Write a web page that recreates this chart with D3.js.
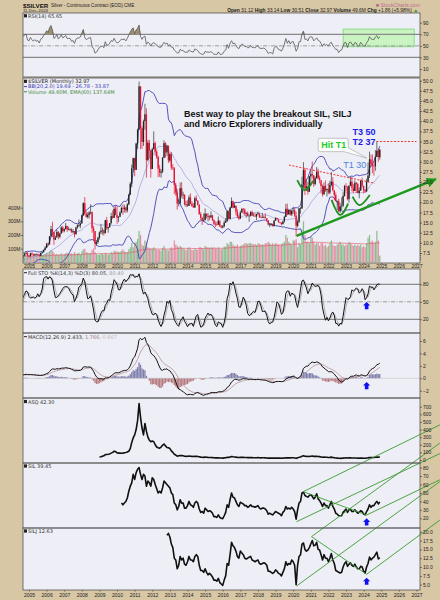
<!DOCTYPE html>
<html>
<head>
<meta charset="utf-8">
<style>
body { margin: 0; background: #d8c7a5; }
svg { display: block; }
text { font-family: "Liberation Sans", Arial, sans-serif; }
.lg { font-family: "DejaVu Sans", Verdana, sans-serif; font-size: 5px; }
.ax text { font-size: 5px; fill: #222; }
.ax line { stroke: #333; stroke-width: 0.6; }
.ax path { display: none; }
</style>
<script src="https://d3js.org/d3.v7.min.js"></script>
</head>
<body>
<svg width="440" height="600"></svg>
<script>

// ---- data -------------------------------------------------------------
// $SILVER monthly, Jan 2002 .. Dec 2024 (earlier months only warm up the indicators)
var silverStart = 2002;
var silverClose = [
  4.24, 4.52, 4.60, 4.57, 4.93, 4.86, 4.60, 4.51, 4.55, 4.45, 4.52, 4.79,
  4.85, 4.60, 4.45, 4.60, 4.60, 4.55, 5.10, 5.05, 5.15, 5.05, 5.30, 5.95,
  6.20, 6.70, 7.50, 6.00, 6.10, 5.90, 6.60, 6.80, 6.90, 7.30, 7.50, 6.80,
  6.70, 7.40, 7.10, 6.90, 7.20, 7.00, 7.10, 6.80, 7.50, 7.70, 8.30, 8.80,
  9.80, 9.60, 11.60, 13.40, 12.60, 10.80, 11.30, 12.70, 11.50, 12.30, 13.80, 12.90,
  13.40, 14.20, 13.30, 13.40, 13.40, 12.60, 12.90, 12.10, 13.80, 14.30, 14.30, 14.80,
  16.80, 19.80, 17.20, 16.40, 16.90, 17.50, 17.60, 13.60, 12.90, 9.80, 10.20, 11.30,
  12.60, 13.00, 13.10, 12.40, 15.60, 13.60, 13.90, 14.90, 16.60, 16.20, 18.40, 16.90,
  16.20, 16.40, 17.50, 18.60, 18.40, 18.70, 18.00, 19.50, 21.90, 24.60, 28.40, 30.90,
  28.00, 34.50, 37.90, 48.60, 38.30, 34.90, 40.00, 41.70, 30.40, 34.70, 32.80, 28.20,
  33.10, 34.60, 32.50, 31.20, 28.30, 27.30, 27.60, 31.00, 34.60, 32.30, 34.00, 30.30,
  31.90, 28.60, 28.40, 24.30, 22.40, 19.70, 19.80, 23.50, 21.70, 21.90, 19.50, 19.50,
  19.10, 21.20, 19.70, 19.10, 18.70, 21.00, 20.40, 19.40, 17.10, 16.20, 15.50, 15.60,
  17.20, 16.60, 16.60, 16.30, 16.80, 15.60, 14.70, 14.60, 14.50, 15.50, 14.10, 13.80,
  14.10, 15.00, 15.40, 17.80, 15.90, 18.70, 20.30, 18.70, 19.20, 17.70, 16.50, 16.00,
  17.50, 18.40, 18.20, 17.20, 17.30, 16.60, 16.70, 17.60, 16.70, 16.70, 16.50, 17.10,
  17.30, 16.40, 16.30, 16.30, 16.40, 16.10, 15.50, 14.50, 14.70, 14.70, 14.20, 15.50,
  16.10, 15.80, 15.10, 15.00, 14.60, 15.30, 16.40, 18.40, 17.00, 18.10, 17.00, 17.90,
  18.00, 16.70, 14.20, 15.20, 18.50, 18.50, 24.40, 28.00, 23.40, 23.90, 22.60, 26.40,
  27.00, 26.70, 24.50, 25.90, 27.50, 26.00, 25.50, 24.00, 22.00, 24.00, 23.00, 23.30,
  22.40, 24.30, 25.10, 23.00, 21.80, 20.30, 20.30, 17.80, 19.00, 19.20, 21.60, 24.00,
  23.90, 20.80, 24.10, 25.10, 23.60, 22.80, 24.80, 24.50, 22.30, 22.90, 25.30, 24.10,
  23.00, 22.70, 25.10, 26.60, 30.60, 29.40, 29.00, 28.90, 31.20, 32.70, 31.12, 32.97
];
var silverHigh = [
  4.40, 4.56, 4.70, 4.66, 5.04, 5.10, 5.00, 4.65, 4.70, 4.60, 4.60, 4.85,
  4.95, 4.90, 4.70, 4.70, 4.80, 4.70, 5.20, 5.30, 5.30, 5.20, 5.35, 6.00,
  6.60, 6.90, 7.90, 8.30, 6.30, 6.30, 6.80, 6.90, 7.00, 7.50, 7.85, 7.80,
  6.95, 7.60, 7.70, 7.40, 7.30, 7.45, 7.30, 7.30, 7.60, 7.80, 8.30, 9.20,
  10.00, 10.10, 11.70, 14.20, 15.20, 12.70, 11.80, 13.20, 12.90, 12.50, 14.10, 14.20,
  13.60, 14.90, 14.00, 14.00, 13.60, 13.60, 13.40, 12.90, 13.90, 14.60, 15.80, 15.00,
  17.00, 20.00, 21.30, 17.90, 17.50, 17.80, 19.50, 17.70, 14.20, 12.90, 10.70, 11.50,
  12.80, 14.70, 13.80, 13.30, 15.70, 16.40, 14.00, 14.90, 17.40, 18.00, 19.00, 19.20,
  18.90, 16.60, 17.80, 19.00, 19.50, 19.40, 18.90, 19.80, 22.10, 25.00, 29.30, 31.00,
  31.00, 34.70, 38.20, 49.80, 48.60, 38.80, 40.40, 44.30, 43.20, 35.40, 35.40, 33.00,
  33.50, 37.50, 35.00, 33.00, 31.50, 29.20, 28.20, 31.20, 35.30, 34.80, 34.20, 33.90,
  32.30, 32.40, 29.40, 28.70, 24.80, 23.30, 20.70, 24.90, 25.00, 22.60, 21.90, 20.40,
  20.50, 21.70, 22.20, 20.30, 19.80, 21.40, 21.70, 20.50, 19.50, 17.60, 16.40, 17.30,
  18.50, 17.30, 17.30, 16.80, 17.80, 16.90, 15.80, 15.30, 15.20, 16.50, 14.80, 14.40,
  14.40, 15.50, 16.10, 18.00, 17.80, 18.80, 21.20, 20.40, 19.90, 19.00, 18.30, 17.00,
  17.90, 18.50, 18.60, 18.50, 17.60, 17.80, 16.90, 17.80, 18.00, 17.40, 17.30, 17.20,
  17.70, 17.20, 16.80, 17.40, 16.80, 17.30, 16.00, 15.60, 14.80, 14.90, 14.70, 15.60,
  16.30, 16.20, 15.70, 15.20, 15.00, 15.40, 16.70, 19.60, 19.70, 18.40, 18.10, 18.10,
  18.90, 18.60, 17.70, 15.70, 18.60, 18.90, 26.30, 29.90, 28.50, 25.70, 25.00, 26.50,
  27.90, 30.10, 26.60, 26.40, 28.70, 28.30, 26.60, 24.90, 24.40, 24.90, 25.40, 23.40,
  24.70, 25.30, 27.50, 26.20, 22.80, 22.40, 20.50, 20.90, 19.90, 21.20, 22.50, 24.30,
  24.70, 23.90, 24.20, 26.40, 26.20, 24.50, 25.40, 25.00, 24.80, 23.70, 25.60, 26.10,
  23.60, 23.30, 25.80, 29.80, 32.50, 31.80, 31.80, 30.20, 32.90, 35.00, 33.20, 33.14
];
var silverLow = [
  4.20, 4.20, 4.45, 4.50, 4.53, 4.80, 4.55, 4.40, 4.45, 4.40, 4.40, 4.50,
  4.70, 4.55, 4.35, 4.45, 4.55, 4.45, 4.55, 4.95, 4.95, 4.90, 5.00, 5.30,
  5.95, 6.10, 6.70, 5.90, 5.50, 5.60, 5.90, 6.30, 6.20, 6.70, 7.20, 6.60,
  6.40, 6.70, 7.00, 6.80, 6.80, 6.90, 6.90, 6.70, 6.80, 7.30, 7.60, 8.20,
  8.80, 9.30, 9.70, 11.50, 11.40, 9.50, 10.70, 11.80, 10.90, 11.10, 12.30, 12.50,
  12.60, 13.30, 12.70, 13.10, 12.90, 12.50, 12.50, 11.30, 12.10, 13.50, 13.90, 13.60,
  14.70, 16.60, 16.80, 16.20, 16.00, 16.00, 17.00, 12.50, 10.50, 8.40, 9.30, 9.80,
  10.80, 12.20, 12.00, 11.80, 12.30, 13.20, 12.50, 13.70, 14.60, 15.90, 16.10, 16.80,
  14.70, 15.10, 16.50, 17.30, 16.90, 17.50, 17.40, 17.50, 19.30, 21.80, 23.80, 27.50,
  26.40, 28.00, 33.20, 37.90, 33.10, 33.20, 33.90, 37.90, 26.10, 30.10, 30.70, 26.10,
  28.30, 33.00, 31.50, 30.70, 26.20, 26.30, 26.10, 27.20, 30.90, 31.00, 31.40, 29.70,
  29.90, 28.00, 28.00, 22.00, 21.60, 18.20, 19.00, 19.50, 21.10, 20.80, 19.20, 18.80,
  18.90, 19.20, 19.50, 18.90, 18.70, 18.70, 20.30, 19.20, 16.90, 15.60, 14.40, 15.20,
  15.60, 16.00, 15.30, 15.60, 16.10, 15.40, 14.40, 13.90, 14.20, 14.40, 13.90, 13.60,
  13.60, 13.80, 14.90, 15.10, 15.80, 15.90, 18.70, 18.50, 18.60, 16.80, 16.10, 15.60,
  15.90, 17.40, 17.10, 16.80, 16.20, 16.50, 15.20, 16.50, 16.60, 16.70, 16.40, 15.60,
  16.90, 16.10, 16.10, 16.10, 16.10, 16.00, 15.30, 14.30, 13.90, 14.20, 14.00, 14.10,
  15.40, 15.60, 15.00, 14.80, 14.30, 14.60, 15.00, 16.30, 16.80, 17.00, 16.70, 16.60,
  17.20, 16.40, 11.60, 13.80, 14.90, 17.20, 18.40, 23.70, 21.80, 22.80, 21.90, 22.70,
  24.20, 25.90, 23.80, 24.20, 25.90, 25.60, 24.70, 22.20, 21.40, 21.80, 22.60, 21.40,
  22.00, 22.00, 23.90, 22.70, 20.50, 20.20, 18.10, 17.60, 17.40, 18.10, 18.80, 21.40,
  22.80, 20.50, 19.90, 24.00, 22.70, 22.30, 22.80, 22.30, 22.20, 21.00, 22.80, 23.60,
  22.20, 22.30, 22.50, 24.90, 26.00, 28.70, 27.20, 26.60, 27.80, 31.20, 30.00, 30.51
];
// monthly volume in millions, Sep 2004 .. Dec 2024
var volumeStart = 2004 + 8 / 12;
var silverVolume = [
  45, 50, 55, 50,
  45, 50, 45, 45, 40, 45, 40, 45, 50, 50, 55, 60,
  70, 65, 80, 90, 85, 70, 55, 60, 55, 55, 65, 55,
  60, 65, 70, 60, 65, 65, 60, 75, 60, 65, 70, 55,
  80, 95, 100, 75, 70, 65, 70, 90, 100, 75, 60, 55,
  55, 65, 65, 55, 70, 65, 55, 60, 75, 70, 85, 80,
  80, 75, 75, 85, 95, 80, 75, 75, 95, 110, 140, 110,
  140, 150, 170, 230, 200, 130, 120, 160, 150, 110, 100, 100,
  100, 110, 100, 90, 95, 90, 85, 105, 120, 95, 90, 85,
  100, 110, 100, 160, 130, 120, 110, 120, 110, 100, 95, 90,
  100, 110, 100, 90, 90, 100, 95, 90, 110, 110, 105, 95,
  120, 110, 110, 105, 110, 105, 110, 100, 100, 110, 100, 95,
  100, 115, 115, 140, 130, 150, 150, 130, 120, 120, 130, 110,
  120, 125, 130, 140, 140, 135, 140, 140, 135, 130, 135, 125,
  140, 135, 130, 130, 130, 140, 140, 150, 140, 130, 140, 130,
  140, 135, 130, 125, 135, 140, 150, 200, 180, 150, 140, 130,
  160, 160, 170, 110, 140, 130, 240, 300, 200, 150, 150, 140,
  190, 180, 150, 130, 140, 140, 120, 140, 140, 120, 130, 110,
  120, 140, 160, 130, 120, 120, 130, 140, 150, 130, 130, 120,
  130, 130, 150, 140, 130, 120, 130, 120, 130, 120, 130, 110,
  120, 110, 140, 180, 200, 150, 160, 140, 150, 230, 160, 49.6
];

// $ASQ monthly closes from Jan 2009
var asqStart = 2009;
var asqClose = [
  40, 42, 50, 55, 70, 72, 75, 80, 90, 100, 115, 110,
  95, 90, 92, 88, 90, 95, 98, 105, 115, 150, 230, 290,
  330, 400, 520, 740, 560, 420, 330, 480, 380, 300, 260, 240,
  250, 240, 200, 170, 160, 155, 170, 195, 210, 185, 165, 160,
  150, 120, 100, 75, 65, 50, 55, 60, 58, 55, 50, 48,
  50, 52, 50, 48, 45, 48, 50, 46, 42, 38, 36, 35,
  38, 36, 34, 33, 33, 31, 29, 28, 28, 29, 27, 26,
  25, 28, 30, 35, 34, 40, 45, 42, 40, 38, 34, 33,
  36, 35, 34, 32, 32, 31, 31, 32, 31, 30, 30, 30,
  31, 29, 28, 29, 29, 28, 27, 25, 25, 24, 24, 25,
  26, 25, 24, 24, 23, 25, 26, 30, 28, 29, 28, 29,
  29, 27, 22, 28, 36, 40, 50, 55, 50, 48, 46, 47,
  50, 52, 48, 48, 50, 47, 44, 40, 36, 38, 37, 36,
  33, 35, 38, 34, 30, 26, 25, 23, 22, 22, 25, 27,
  29, 26, 28, 29, 27, 26, 27, 26, 24, 24, 26, 25,
  23, 22, 26, 28, 33, 31, 32, 33, 36, 39, 37, 42.3
];

// SIL monthly closes from Apr 2010
var silStart = 2010 + 3 / 12;
var silClose = [
  38, 36, 38, 40, 44, 52, 58, 62, 72,
  66, 74, 78, 80, 72, 66, 72, 70, 58, 64, 62, 58,
  68, 66, 60, 55, 50, 52, 50, 56, 64, 62, 60, 58,
  56, 50, 48, 38, 36, 30, 34, 42, 38, 38, 32, 32,
  35, 40, 36, 35, 33, 38, 40, 38, 31, 27, 28, 26,
  32, 30, 28, 29, 28, 26, 22, 22, 21, 24, 21, 20,
  19.5, 23, 27, 36, 33, 42, 50, 45, 44, 40, 36, 34,
  39, 38, 37, 35, 35, 33, 34, 36, 34, 34, 33, 34,
  35, 32, 31, 32, 32, 31, 29, 25, 26, 25, 24, 26,
  28, 27, 26, 25, 23, 27, 29, 34, 31, 32, 31, 33,
  31, 28, 19, 30, 38, 40, 50, 51, 47, 46, 45, 47,
  48, 46, 43, 45, 49, 43, 41, 38, 34, 38, 35, 35,
  32, 36, 40, 34, 31, 26, 25, 23, 23, 23, 27, 29,
  31, 27, 30, 31, 28, 28, 30, 28, 26, 27, 29, 28,
  25, 24, 28, 31, 36, 33, 35, 35, 38, 40, 37, 39.45
];

// SILJ monthly closes from Nov 2012
var siljStart = 2012 + 10 / 12;
var siljClose = [
  19.0, 19.5,
  18.5, 16.5, 15.5, 12.5, 12.0, 9.5, 10.5, 13.0, 12.0, 12.5, 10.8, 10.5,
  11.5, 13.0, 12.0, 12.0, 11.5, 13.0, 13.5, 13.0, 10.5, 9.0, 9.0, 8.5,
  9.5, 8.5, 7.8, 8.2, 7.8, 7.2, 6.3, 6.3, 6.0, 6.8, 5.6, 5.2,
  4.8, 6.3, 7.5, 11.0, 10.5, 13.5, 17.0, 16.0, 15.5, 14.5, 13.0, 12.5,
  14.5, 14.0, 13.5, 12.5, 12.3, 12.5, 12.8, 13.0, 12.0, 11.8, 11.5, 11.8,
  12.0, 11.0, 10.8, 11.0, 11.2, 11.0, 10.5, 8.8, 8.8, 8.5, 8.2, 8.5,
  9.2, 8.8, 8.2, 8.0, 7.5, 8.5, 9.5, 11.5, 10.5, 11.0, 10.8, 12.0,
  11.5, 10.5, 5.0, 10.5, 13.0, 13.5, 16.5, 16.8, 15.0, 14.5, 14.8, 15.5,
  16.5, 17.5, 16.0, 16.2, 17.0, 15.0, 14.8, 13.5, 12.0, 13.5, 12.5, 12.5,
  11.5, 12.5, 13.8, 12.0, 11.0, 9.0, 8.8, 8.5, 8.3, 8.5, 10.0, 11.0,
  11.5, 10.2, 10.8, 11.2, 10.5, 10.2, 10.8, 10.0, 9.5, 9.5, 10.2, 10.0,
  8.8, 8.3, 10.0, 11.0, 12.8, 12.0, 12.5, 12.8, 13.5, 14.2, 12.3, 12.63
];

var years = d3.range(2005, 2028);

// hand-drawn marks on the main chart: [date, price]
var necklinePts = [[2019.76, 29.2], [2024.64, 24.7]];
var targetLinePts = [[2024.73, 35.0], [2027.0, 35.0]];
var trendArrowPts = [[2020.19, 11.75], [2028.1, 25.7]];
var smiles = [
  [[2020.23, 25.5], [2020.66, 23.0], [2021.14, 25.3]],
  [[2022.18, 20.6], [2022.65, 16.9], [2023.12, 19.7]],
  [[2023.37, 21.4], [2023.79, 19.3], [2024.35, 21.8]]
];
// channel lines on SIL and SILJ: [[date, price], [date, price]]
var silLines = [
  [[2020.57, 51.5], [2028.33, 130.6]],
  [[2020.19, 16.0], [2028.33, 96.6]],
  [[2020.57, 51.5], [2024.17, 23.9]],
  [[2024.17, 23.9], [2028.33, 65.6]]
];
var siljLines = [
  [[2021.04, 18.6], [2028.33, 45.1]],
  [[2020.19, 4.63], [2028.33, 34.2]],
  [[2021.04, 18.6], [2024.17, 7.94]],
  [[2024.17, 7.94], [2028.33, 23.3]]
];
var arrowDate = 2024.17;

// ---- layout -------------------------------------------------------------
var svg = d3.select("svg");
var L = 23, R = 420;
var x = d3.scaleLinear().domain([2004.66, 2027.2]).range([L, R]);

var panels = {
  rsi:  [13, 77],
  main: [78, 263],
  sto:  [269, 333],
  macd: [333, 398],
  asq:  [398, 463],
  sil:  [463, 528],
  silj: [528, 590]
};

var rsiY  = d3.scaleLinear().domain([10, 90]).range([69, 22.7]);
var priceY = d3.scaleLinear().domain([7.5, 50]).range([253, 80.7]);
var volY  = d3.scaleLinear().domain([0, 400]).range([262.3, 207.7]);
var stoY  = d3.scaleLinear().domain([20, 80]).range([319.3, 284.3]);
var macdY = d3.scaleLinear().domain([-2, 6]).range([390.7, 341]);
var asqY  = d3.scaleLinear().domain([0, 700]).range([460, 406.7]);
var silY  = d3.scaleLinear().domain([20, 80]).range([518.3, 467.6]);
var siljY = d3.scaleLinear().domain([5, 20]).range([584.7, 531.7]);

var defs = svg.append("defs");
Object.keys(panels).forEach(function(k) {
  var p = panels[k];
  svg.append("rect").attr("x", L).attr("y", p[0]).attr("width", R - L).attr("height", p[1] - p[0])
    .attr("fill", "#eeeef6");
  defs.append("clipPath").attr("id", "clip-" + k).append("rect")
    .attr("x", L).attr("y", p[0]).attr("width", R - L).attr("height", p[1] - p[0]);
});
defs.append("marker").attr("id", "ghead").attr("markerUnits", "userSpaceOnUse")
  .attr("markerWidth", 12).attr("markerHeight", 12).attr("refX", 9).attr("refY", 5)
  .attr("orient", "auto")
  .append("path").attr("d", "M0,0L10,5L0,10Z").attr("fill", "#1d9a1d");

function tOf(start, i) { return start + i / 12; }

// ---- indicators ----------------------------------------------------------
function sma(a, n) {
  return a.map(function(v, i) {
    if (i < n - 1) return null;
    var s = a.slice(i - n + 1, i + 1);
    if (s.some(function(q) { return q == null; })) return null;
    return d3.mean(s);
  });
}
function ema(a, n) {
  var k = 2 / (n + 1), prev = null;
  return a.map(function(v) {
    if (v == null) return null;
    prev = prev == null ? v : v * k + prev * (1 - k);
    return prev;
  });
}
function rsi(c, n) {
  var out = [null], ag = 0, al = 0;
  for (var i = 1; i < c.length; i++) {
    var d = c[i] - c[i - 1], g = Math.max(d, 0), l = Math.max(-d, 0);
    if (i <= n) { ag += g / n; al += l / n; out.push(i < n ? null : 100 - 100 / (1 + ag / al)); }
    else { ag = (ag * (n - 1) + g) / n; al = (al * (n - 1) + l) / n; out.push(100 - 100 / (1 + ag / al)); }
  }
  return out;
}

var rsiVals = rsi(silverClose, 14);
var bbMid = sma(silverClose, 20);
var bbUp = [], bbLo = [];
silverClose.forEach(function(v, i) {
  if (i < 19) { bbUp.push(null); bbLo.push(null); return; }
  var s = silverClose.slice(i - 19, i + 1), m = bbMid[i];
  var sd = Math.sqrt(d3.mean(s, function(q) { return (q - m) * (q - m); }));
  bbUp.push(m + 2 * sd); bbLo.push(m - 2 * sd);
});
var fastK = silverClose.map(function(v, i) {
  if (i < 13) return null;
  var hh = d3.max(silverHigh.slice(i - 13, i + 1)), ll = d3.min(silverLow.slice(i - 13, i + 1));
  return (v - ll) / (hh - ll) * 100;
});
var fullK = sma(fastK, 3), fullD = sma(fullK, 3);
var e12 = ema(silverClose, 12), e26 = ema(silverClose, 26);
var macd = e12.map(function(v, i) { return i < 25 ? null : v - e26[i]; });
var signal = ema(macd, 9);
var hist = macd.map(function(v, i) { return v == null ? null : v - signal[i]; });
var volEma = ema(silverVolume, 60);

function series(vals, start, yS) {
  return vals.map(function(v, i) { return v == null ? null : [x(tOf(start, i)), yS(v)]; })
    .filter(function(d) { return d; });
}
var lineGen = d3.line();

// ---- RSI panel ------------------------------------------------------------
var gR = svg.append("g").attr("clip-path", "url(#clip-rsi)");
gR.append("rect").attr("x", x(2022.84)).attr("y", rsiY(79)).attr("width", x(2026.87) - x(2022.84))
  .attr("height", rsiY(48.5) - rsiY(79)).attr("fill", "#c9f3c0").attr("stroke", "#8fdc88").attr("stroke-width", 1);
[70, 30].forEach(function(v) {
  gR.append("line").attr("x1", L).attr("x2", R).attr("y1", rsiY(v)).attr("y2", rsiY(v))
    .attr("stroke", "#888").attr("stroke-width", 1.3);
});
gR.append("line").attr("x1", L).attr("x2", R).attr("y1", rsiY(50)).attr("y2", rsiY(50))
  .attr("stroke", "#777").attr("stroke-width", 0.7).attr("stroke-dasharray", "4,1.5,1,1.5");
var rsiPts = rsiVals.map(function(v, i) { return v == null ? null : { t: tOf(silverStart, i), v: v }; })
  .filter(function(d) { return d; });
gR.append("path").datum(rsiPts)
  .attr("d", d3.area().x(function(d) { return x(d.t); }).y0(rsiY(70))
    .y1(function(d) { return rsiY(Math.max(70, d.v)); }))
  .attr("fill", "#9d9070");
gR.append("path").datum(rsiPts)
  .attr("d", d3.line().x(function(d) { return x(d.t); }).y(function(d) { return rsiY(d.v); }))
  .attr("fill", "none").attr("stroke", "#555").attr("stroke-width", 0.8);

// ---- main panel -----------------------------------------------------------
var gM = svg.append("g").attr("clip-path", "url(#clip-main)");
gM.selectAll(".vol").data(silverVolume).join("rect")
  .attr("x", function(d, i) { return x(tOf(volumeStart, i)) - 0.6; })
  .attr("width", 1.25)
  .attr("y", function(d) { return volY(d); })
  .attr("height", function(d) { return volY(0) - volY(d); })
  .attr("fill", function(d, i) {
    var k = i + 32;
    return silverClose[k] >= silverClose[k - 1] ? "#8dbd8d" : "#e391a6";
  });
gM.append("path").attr("d", lineGen(series(volEma, volumeStart, volY)))
  .attr("fill", "none").attr("stroke", "#e06070").attr("stroke-width", 0.7);

gM.append("path").attr("d", lineGen(series(bbUp, silverStart, priceY)))
  .attr("fill", "none").attr("stroke", "#4343b5").attr("stroke-width", 0.9);
gM.append("path").attr("d", lineGen(series(bbLo, silverStart, priceY)))
  .attr("fill", "none").attr("stroke", "#4343b5").attr("stroke-width", 0.9);
gM.append("path").attr("d", lineGen(series(bbMid, silverStart, priceY)))
  .attr("fill", "none").attr("stroke", "#8c8cd6").attr("stroke-width", 0.6);

var candles = silverClose.map(function(c, i) {
  return { t: tOf(silverStart, i), o: i ? silverClose[i - 1] : c, h: silverHigh[i], l: silverLow[i], c: c,
           up: i ? c >= silverClose[i - 1] : true };
});
var cg = gM.selectAll(".cdl").data(candles).join("g");
cg.append("line")
  .attr("x1", function(d) { return x(d.t); }).attr("x2", function(d) { return x(d.t); })
  .attr("y1", function(d) { return priceY(d.h); }).attr("y2", function(d) { return priceY(d.l); })
  .attr("stroke", function(d) { return d.up ? "#333" : "#e5102e"; }).attr("stroke-width", 0.7);
cg.append("rect")
  .attr("x", function(d) { return x(d.t) - 0.65; }).attr("width", 1.3)
  .attr("y", function(d) { return priceY(Math.max(d.o, d.c)); })
  .attr("height", function(d) { return Math.max(0.6, Math.abs(priceY(d.o) - priceY(d.c))); })
  .attr("fill", function(d) { return d.up ? "#222" : "#e5102e"; });

// annotations on the main chart
function pxy(p) { return [x(p[0]), priceY(p[1])]; }
var ann = svg.append("g");
ann.append("path").attr("d", lineGen(necklinePts.map(pxy)))
  .attr("stroke", "#f02020").attr("stroke-width", 0.9).attr("stroke-dasharray", "2,1.5").attr("fill", "none");
ann.append("path").attr("d", lineGen(targetLinePts.map(pxy)))
  .attr("stroke", "#f02020").attr("stroke-width", 0.9).attr("stroke-dasharray", "2,1.5").attr("fill", "none");
smiles.forEach(function(s) {
  ann.append("path").attr("d", d3.line().curve(d3.curveNatural)(s.map(pxy)))
    .attr("fill", "none").attr("stroke", "#1f8f1f").attr("stroke-width", 1.8);
});
ann.append("path").attr("d", lineGen(trendArrowPts.map(pxy)))
  .attr("stroke", "#1d9a1d").attr("stroke-width", 2.4).attr("marker-end", "url(#ghead)");

var tBest = ann.append("text").attr("x", x(2013.8)).attr("font-weight", "bold").attr("font-size", 9).attr("fill", "#111");
tBest.append("tspan").attr("x", x(2013.8)).attr("y", priceY(41.1)).text("Best way to play the breakout SIL, SILJ");
tBest.append("tspan").attr("x", x(2013.8)).attr("y", priceY(38.5)).text("and Micro Explorers individually");

ann.append("text").attr("x", x(2023.37)).attr("y", priceY(36.65)).attr("font-size", 9).attr("font-weight", "bold")
  .attr("fill", "#1b1be6").text("T3 50");
ann.append("text").attr("x", x(2023.37)).attr("y", priceY(34.1)).attr("font-size", 9).attr("font-weight", "bold")
  .attr("fill", "#1b1be6").text("T2 37");
ann.append("text").attr("x", x(2022.84)).attr("y", priceY(28.45)).attr("font-size", 9)
  .attr("fill", "#4f84dc").text("T1 30");

var bx0 = x(2021.42), bx1 = x(2023.12), by0 = priceY(35.8), by1 = priceY(32.5);
var tip = pxy([2024.18, 30.9]);
ann.append("path")
  .attr("d", "M" + (bx0 + 2) + "," + by0 + "H" + (bx1 - 2) + "Q" + bx1 + "," + by0 + " " + bx1 + "," + (by0 + 2) +
    "V" + (by1 - 4) + "L" + tip[0] + "," + tip[1] + "L" + (bx1 - 4) + "," + by1 +
    "H" + (bx0 + 2) + "Q" + bx0 + "," + by1 + " " + bx0 + "," + (by1 - 2) + "V" + (by0 + 2) +
    "Q" + bx0 + "," + by0 + " " + (bx0 + 2) + "," + by0 + "Z")
  .attr("fill", "#fff").attr("stroke", "#aaa").attr("stroke-width", 0.7);
ann.append("text").attr("x", x(2021.6)).attr("y", priceY(33.3)).attr("font-size", 9).attr("font-weight", "bold")
  .attr("fill", "#22cc22").text("Hit T1");

// ---- Full STO -------------------------------------------------------------
var gS = svg.append("g").attr("clip-path", "url(#clip-sto)");
[80, 20].forEach(function(v) {
  gS.append("line").attr("x1", L).attr("x2", R).attr("y1", stoY(v)).attr("y2", stoY(v))
    .attr("stroke", "#555").attr("stroke-width", 0.8);
});
gS.append("line").attr("x1", L).attr("x2", R).attr("y1", stoY(50)).attr("y2", stoY(50))
  .attr("stroke", "#777").attr("stroke-width", 0.7).attr("stroke-dasharray", "4,1.5,1,1.5");
gS.append("path").attr("d", lineGen(series(fullD, silverStart, stoY)))
  .attr("fill", "none").attr("stroke", "#aaa").attr("stroke-width", 0.9);
gS.append("path").attr("d", lineGen(series(fullK, silverStart, stoY)))
  .attr("fill", "none").attr("stroke", "#111").attr("stroke-width", 1);

// ---- MACD -----------------------------------------------------------------
var gD = svg.append("g").attr("clip-path", "url(#clip-macd)");
gD.selectAll(".h").data(hist.map(function(v, i) { return { t: tOf(silverStart, i), v: v }; })
    .filter(function(d) { return d.v != null; }))
  .join("rect")
  .attr("x", function(d) { return x(d.t) - 0.65; }).attr("width", 1.3)
  .attr("y", function(d) { return Math.min(macdY(0), macdY(d.v)); })
  .attr("height", function(d) { return Math.abs(macdY(d.v) - macdY(0)); })
  .attr("fill", function(d) { return d.v >= 0 ? "#7f7fae" : "#b77c80"; });
gD.append("line").attr("x1", L).attr("x2", R).attr("y1", macdY(0)).attr("y2", macdY(0))
  .attr("stroke", "#bbb").attr("stroke-width", 0.5);
gD.append("path").attr("d", lineGen(series(signal, silverStart, macdY)))
  .attr("fill", "none").attr("stroke", "#b59090").attr("stroke-width", 0.8);
gD.append("path").attr("d", lineGen(series(macd, silverStart, macdY)))
  .attr("fill", "none").attr("stroke", "#111").attr("stroke-width", 1);

// ---- ASQ, SIL, SILJ ---------------------------------------------------------
[["asq", asqClose, asqStart, asqY], ["sil", silClose, silStart, silY], ["silj", siljClose, siljStart, siljY]]
  .forEach(function(p) {
    svg.append("g").attr("clip-path", "url(#clip-" + p[0] + ")")
      .append("path").attr("d", lineGen(series(p[1], p[2], p[3])))
      .attr("fill", "none").attr("stroke", "#111").attr("stroke-width", 1.6).attr("stroke-linejoin", "round");
  });

var chan = svg.append("g");
silLines.forEach(function(s) {
  chan.append("path").attr("d", lineGen(s.map(function(p) { return [x(p[0]), silY(p[1])]; })))
    .attr("stroke", "#3c9a32").attr("stroke-width", 0.9).attr("fill", "none");
});
siljLines.forEach(function(s) {
  chan.append("path").attr("d", lineGen(s.map(function(p) { return [x(p[0]), siljY(p[1])]; })))
    .attr("stroke", "#3c9a32").attr("stroke-width", 0.9).attr("fill", "none");
});

// blue up arrows
function upArrow(cx, ty) {
  return "M" + cx + "," + ty + "l3.6,3.6h-1.8v3.6h-3.6v-3.6h-1.8z";
}
[[stoY, 49.7], [macdY, -0.6], [silY, 20], [siljY, 7.0]].forEach(function(a) {
  svg.append("path").attr("d", upArrow(x(arrowDate), a[0](a[1]))).attr("fill", "#1010f0");
});

// ---- borders & axes -------------------------------------------------------
Object.keys(panels).forEach(function(k) {
  var p = panels[k];
  svg.append("rect").attr("x", L).attr("y", p[0]).attr("width", R - L).attr("height", p[1] - p[0])
    .attr("fill", "none").attr("stroke", "#555").attr("stroke-width", 0.8);
});

function rightAxis(scale, vals, fmt) {
  svg.append("g").attr("class", "ax").attr("transform", "translate(" + R + ",0)")
    .call(d3.axisRight(scale).tickValues(vals).tickFormat(fmt).tickSize(2).tickPadding(1));
}
rightAxis(rsiY, [10, 30, 50, 70, 90], d3.format("d"));
rightAxis(priceY, d3.range(7.5, 50.1, 2.5), d3.format(".1f"));
svg.append("g").attr("class", "ax").attr("transform", "translate(" + R + ",0)")
  .call(d3.axisRight(priceY).tickValues(d3.range(6, 50.1, 0.5)).tickFormat("").tickSize(1));
rightAxis(stoY, [20, 50, 80], d3.format("d"));
rightAxis(macdY, [-2, 0, 2, 4, 6], d3.format("d"));
rightAxis(asqY, d3.range(0, 701, 100), d3.format("d"));
rightAxis(silY, d3.range(20, 81, 10), d3.format("d"));
rightAxis(siljY, d3.range(5, 20.1, 2.5), d3.format(".1f"));
svg.append("g").attr("class", "ax").attr("transform", "translate(" + L + ",0)")
  .call(d3.axisLeft(volY).tickValues([100, 200, 300, 400]).tickFormat(function(d) { return d + "M"; })
    .tickSize(2).tickPadding(0.5));

[[263, 0], [590, 2]].forEach(function(a) {
  svg.append("g").attr("class", "ax").attr("transform", "translate(0," + a[0] + ")")
    .call(d3.axisBottom(x).tickValues(years).tickFormat(d3.format("d")).tickSize(1.5).tickPadding(a[1]));
});

// ---- header and legends -----------------------------------------------------
svg.append("text").attr("x", 23).attr("y", 7.5).attr("font-size", 6.2).attr("font-weight", "bold")
  .attr("fill", "#111").text("$SILVER");
svg.append("text").attr("x", 51).attr("y", 7.3).attr("font-size", 4.6).attr("fill", "#222")
  .text("Silver - Continuous Contract (EOD) CME");
svg.append("circle").attr("cx", 377.5).attr("cy", 5.3).attr("r", 1.6).attr("fill", "#b86e8e");
svg.append("text").attr("x", 420).attr("y", 7).attr("text-anchor", "end").attr("font-size", 5.2)
  .attr("fill", "#b86e8e").text("StockCharts.com");
svg.append("text").attr("x", 23).attr("y", 12.3).attr("font-size", 4.4).attr("fill", "#222").text("11-Dec-2024");
var ohlc = svg.append("text").attr("x", 418).attr("y", 12.3).attr("text-anchor", "end").attr("font-size", 4.9)
  .attr("fill", "#222");
[["Open", "31.12"], ["High", "33.14"], ["Low", "30.51"], ["Close", "32.97"], ["Volume", "49.6M"], ["Chg", "+1.86 (+5.98%)"]]
  .forEach(function(p) {
    ohlc.append("tspan").attr("font-weight", "bold").text(p[0] + " ");
    ohlc.append("tspan").text(p[1] + "  ");
  });
ohlc.append("tspan").attr("fill", "#2a9a2a").text("\u25B2");

function legend(y, parts, icon) {
  var t = svg.append("text").attr("class", "lg").attr("x", 28).attr("y", y);
  parts.forEach(function(p) { t.append("tspan").attr("fill", p[1]).text(p[0]); });
  if (icon === "sq") svg.append("rect").attr("x", 24).attr("y", y - 3.6).attr("width", 3).attr("height", 3.2).attr("fill", "#222");
  else svg.append("line").attr("x1", 24).attr("x2", 27).attr("y1", y - 1.8).attr("y2", y - 1.8)
    .attr("stroke", icon).attr("stroke-width", 1);
}
legend(17.8, [["RSI(14) 65.65", "#333"]], "sq");
legend(83.3, [["$SILVER (Monthly) 32.97", "#222"]], "sq");
legend(88.4, [["BB(20,2.0) 19.69 - 26.78 - 33.87", "#3a3ab0"]], "#3a3ab0");
legend(93.6, [["Volume 49.60M, EMA(60) 137.64M", "#3c8a3c"]], "#3c8a3c");
legend(274.5, [["Full STO %K(14,3) %D(3) 80.05, ", "#333"], ["80.40", "#999"]], "#222");
legend(338.5, [["MACD(12,26,9) 2.433, ", "#333"], ["1.766, ", "#a08080"], ["0.667", "#bbb"]], "#222");
legend(403.5, [["ASQ 42.30", "#333"]], "sq");
legend(468, [["SIL 39.45", "#333"]], "sq");
legend(533, [["SILJ 12.63", "#333"]], "sq");

</script>
</body>
</html>
